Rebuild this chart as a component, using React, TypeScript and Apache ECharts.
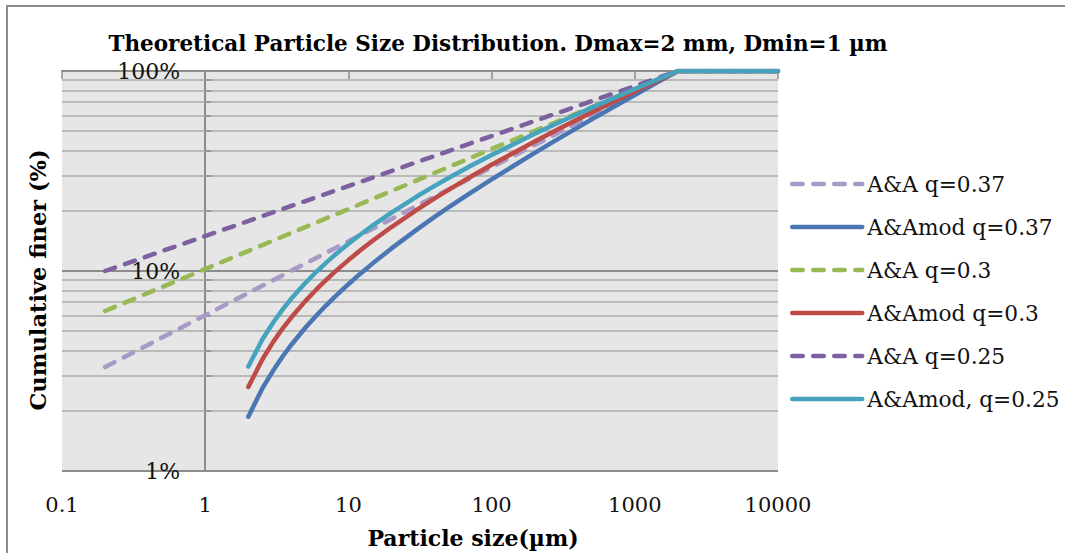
import React, { useEffect, useRef } from "react";
import * as echarts from "echarts";

// ---- data ----
const xTicks = [0.1, 1, 10, 100, 1000, 10000];
const yTicks = [1, 10, 100];
const minorGrid = [2, 3, 4, 5, 6, 7, 8, 9, 20, 30, 40, 50, 60, 70, 80, 90];

// Andreasen (A&A) series, particle sizes in µm, cumulative finer in %
const sizesAA = [0.2, 1, 10, 100, 1000, 2000, 10000];
const aa037 = [3.31, 6.01, 14.08, 33.01, 77.39, 100, 100];
const aa030 = [6.31, 10.23, 20.4, 40.72, 81.23, 100, 100];
const aa025 = [10.0, 14.95, 26.59, 47.29, 84.09, 100, 100];

// Modified Andreasen (A&Amod) series
const sizesMod = [2, 2.5, 3, 3.5, 4, 5, 6, 7, 8, 10, 12, 15, 20, 30, 40, 50, 70, 100, 200, 300, 500, 1000, 1500, 2000, 10000];
const mod037 = [1.87, 2.58, 3.2, 3.77, 4.28, 5.2, 6.01, 6.74, 7.4, 8.59, 9.64, 11.01, 12.97, 16.1, 18.63, 20.78, 24.39, 28.72, 38.99, 46.34, 57.31, 75.92, 89.25, 100, 100];
const mod030 = [2.63, 3.6, 4.45, 5.2, 5.87, 7.07, 8.11, 9.03, 9.87, 11.34, 12.61, 14.28, 16.59, 20.21, 23.06, 25.44, 29.35, 33.96, 44.44, 51.66, 62.11, 79.09, 90.79, 100, 100];
const mod025 = [3.33, 4.53, 5.56, 6.47, 7.28, 8.71, 9.94, 11.02, 11.99, 13.68, 15.14, 17.02, 19.6, 23.57, 26.64, 29.17, 33.28, 38.02, 48.54, 55.59, 65.56, 81.29, 91.84, 100, 100];

const seriesNames = [
  "A&A q=0.37",
  "A&Amod q=0.37",
  "A&A q=0.3",
  "A&Amod q=0.3",
  "A&A q=0.25",
  "A&Amod, q=0.25",
];

const FONT = '"DejaVu Serif", serif';
const GRID_L = 62;
const GRID_R = 778;
const DECADE_PX = (GRID_R - GRID_L) / 5;
const LW = 4.5;

function mk(name: string, xs: number[], ys: number[], color: string, dashed: boolean) {
  return {
    name,
    type: "line",
    data: xs.map((x, i) => [x, ys[i]]),
    symbol: "none",
    showSymbol: false,
    z: 5,
    lineStyle: {
      color,
      width: LW,
      type: dashed ? [10.5, 10.5] : "solid",
      cap: "round",
      join: "round",
    },
    itemStyle: { color },
  };
}

export default function App() {
  const ref = useRef<HTMLDivElement>(null);
  useEffect(() => {
    if (!ref.current) return;
    const chart = echarts.init(ref.current, undefined, { renderer: "svg" });
    const option: any = {
      animation: false,
      backgroundColor: "#ffffff",
      grid: {
        left: GRID_L,
        right: 1065 - GRID_R,
        top: 71,
        bottom: 553 - 471,
        show: true,
        backgroundColor: "#e6e6e6",
        borderWidth: 0,
      },
      xAxis: [
        {
          type: "log",
          logBase: 10,
          min: 0.1,
          max: 10000,
          position: "bottom",
          axisLine: { show: false, onZero: false },
          axisTick: { show: false },
          splitLine: { show: false },
          axisLabel: {
            customValues: xTicks,
            margin: 23,
            color: "#111",
            fontFamily: FONT,
            fontSize: 21,
            formatter: (v: number) => String(Number(v.toPrecision(3))),
          },
        },
        {
          type: "log",
          logBase: 10,
          min: 0.1,
          max: 10000,
          position: "top",
          axisLine: { show: true, onZero: false, lineStyle: { color: "#8c8c8c", width: 2 } },
          axisTick: {
            show: true,
            inside: true,
            length: 8,
            customValues: xTicks,
            lineStyle: { color: "#8c8c8c", width: 1.5 },
          },
          axisLabel: { show: false },
          splitLine: { show: false },
        },
      ],
      yAxis: {
        type: "log",
        logBase: 10,
        min: 1,
        max: 100,
        position: "left",
        offset: -DECADE_PX,
        axisLine: { show: true, onZero: false, lineStyle: { color: "#8c8c8c", width: 2 } },
        axisTick: {
          show: true,
          inside: true,
          length: 6,
          customValues: yTicks,
          lineStyle: { color: "#8c8c8c", width: 1.5 },
        },
        axisLabel: {
          customValues: yTicks,
          margin: 25,
          color: "#111",
          fontFamily: FONT,
          fontSize: 22,
          formatter: (v: number) => Math.round(v) + "%",
        },
        splitLine: { show: true, lineStyle: { color: "#8c8c8c", width: 2 } },
      },
      legend: {
        data: seriesNames,
        orient: "vertical",
        left: 785,
        top: 167,
        itemWidth: 70,
        itemHeight: 14,
        itemGap: 19,
        itemStyle: { opacity: 0 },
        lineStyle: { width: LW },
        textStyle: { fontFamily: FONT, fontSize: 21.7, color: "#111", lineHeight: 24 },
        selectedMode: false,
      },
      graphic: [
        {
          type: "rect",
          silent: true,
          shape: { x: 7, y: 6, width: 1100, height: 600 },
          style: { fill: "none", stroke: "#8c8c8c", lineWidth: 2 },
        },
        {
          type: "text",
          x: 498,
          y: 43,
          style: {
            text: "Theoretical Particle Size Distribution. Dmax=2 mm, Dmin=1 µm",
            fontFamily: FONT,
            fontSize: 21.5,
            fontWeight: "bold",
            fill: "#000",
            align: "center",
            verticalAlign: "middle",
          },
        },
        {
          type: "text",
          x: 38,
          y: 280,
          rotation: Math.PI / 2,
          style: {
            text: "Cumulative finer (%)",
            fontFamily: FONT,
            fontSize: 22.5,
            fontWeight: "bold",
            fill: "#000",
            align: "center",
            verticalAlign: "middle",
          },
        },
        {
          type: "text",
          x: 473,
          y: 538,
          style: {
            text: "Particle size(µm)",
            fontFamily: FONT,
            fontSize: 22,
            fontWeight: "bold",
            fill: "#000",
            align: "center",
            verticalAlign: "middle",
          },
        },
      ],
      series: [
        {
          name: "__grid",
          type: "line",
          data: [[1, 1]],
          symbol: "none",
          lineStyle: { opacity: 0 },
          silent: true,
          z: 1,
          markLine: {
            silent: true,
            symbol: ["none", "none"],
            label: { show: false },
            animation: false,
            lineStyle: { color: "#ababab", width: 1.5, type: "solid" },
            data: [
              ...minorGrid.map((v) => ({ yAxis: v })),
              ...minorGrid.map((v) => [
                { coord: [1, v], lineStyle: { color: "#8c8c8c", width: 1.5, type: "solid" } },
                { coord: [1.1, v] },
              ]),
            ],
          },
        },
        mk(seriesNames[0], sizesAA, aa037, "#a899c7", true),
        mk(seriesNames[1], sizesMod, mod037, "#4a76b3", false),
        mk(seriesNames[2], sizesAA, aa030, "#98b954", true),
        mk(seriesNames[3], sizesMod, mod030, "#be4b48", false),
        mk(seriesNames[4], sizesAA, aa025, "#7d60a0", true),
        mk(seriesNames[5], sizesMod, mod025, "#45a3bd", false),
      ],
    };
    chart.setOption(option);
    return () => chart.dispose();
  }, []);
  return (
    <div
      ref={ref}
      style={{ position: "absolute", left: 0, top: 0, width: 1065, height: 553 }}
    />
  );
}
